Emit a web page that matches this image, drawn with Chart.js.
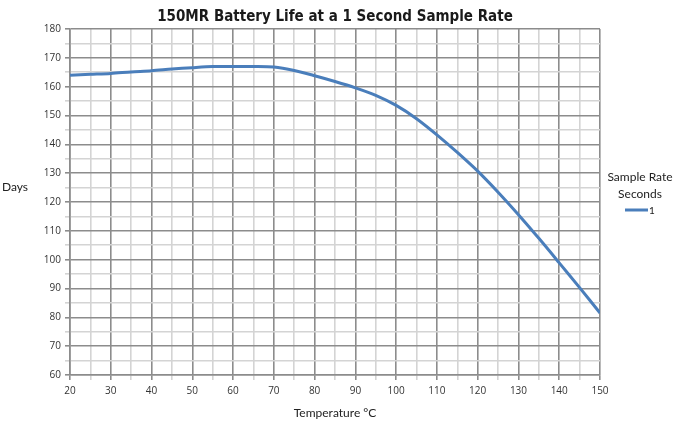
<!DOCTYPE html>
<html>
<head>
<meta charset="utf-8">
<script src="https://cdn.jsdelivr.net/npm/chart.js@4.4.1/dist/chart.umd.min.js"></script>
<style>
  html, body { margin: 0; padding: 0; background: #ffffff; }
  #wrap { width: 679px; height: 421px; position: relative; }
</style>
</head>
<body>
<div id="wrap"><canvas id="c" width="679" height="421"></canvas></div>
<script>
const chartTitle = "150MR Battery Life at a 1 Second Sample Rate";
const xAxisTitle = "Temperature °C";
const yAxisTitle = "Days";
const legendTitle = ["Sample Rate", "Seconds"];
const seriesLabel = "1";
const temperatures = [20, 25, 30, 35, 40, 45, 50, 55, 60, 65, 70, 75, 80, 85, 90, 95, 100, 105, 110, 115, 120, 125, 130, 135, 140, 145, 150];
const days = [164, 164.3, 164.6, 165.1, 165.5, 166.1, 166.6, 167, 167, 167, 166.8, 165.6, 163.8, 161.8, 159.6, 157.0, 153.5, 148.9, 143.3, 137.2, 130.7, 123.4, 115.6, 107.4, 98.9, 90.3, 81.5];
const xMin = 20, xMax = 150, xStep = 5;
const yMin = 60, yMax = 180, yStep = 5;

const lineColor = "rgb(74,126,187)";
const majorGrid = "#8c8c8c";
const minorGrid = "#d4d4d4";

const textPlugin = {
  id: "extraText",
  afterDraw(chart) {
    const ctx = chart.ctx;
    const area = chart.chartArea;
    ctx.save();
    ctx.fillStyle = "#1a1a1a";
    ctx.font = "bold 15px 'DejaVu Sans Condensed', 'DejaVu Sans', sans-serif";
    ctx.textAlign = "center";
    ctx.textBaseline = "middle";
    ctx.fillText(chartTitle, (area.left + area.right) / 2, 17);
    ctx.font = "12px 'Lato', sans-serif";
    ctx.fillStyle = "#222";
    ctx.fillText(yAxisTitle, 15, 187);
    const lx = 640;
    ctx.font = "12px 'Lato', sans-serif";
    ctx.fillText(legendTitle[0], lx, 177);
    ctx.fillText(legendTitle[1], lx, 194);
    const ds = chart.data.datasets[0];
    ctx.strokeStyle = ds.borderColor;
    ctx.lineWidth = 3;
    ctx.beginPath();
    ctx.moveTo(625, 210);
    ctx.lineTo(648, 210);
    ctx.stroke();
    ctx.font = "10px 'Lato', sans-serif";
    ctx.textAlign = "left";
    ctx.fillStyle = "#222";
    ctx.fillText(ds.label, 649, 211);
    ctx.restore();
  }
};

new Chart(document.getElementById("c"), {
  type: "line",
  data: {
    datasets: [{
      label: seriesLabel,
      data: temperatures.map((t, i) => ({ x: t, y: days[i] })),
      borderColor: lineColor,
      borderWidth: 3,
      pointRadius: 0,
      fill: false,
      tension: 0.3
    }]
  },
  options: {
    responsive: false,
    animation: false,
    devicePixelRatio: 1,
    layout: { padding: { top: 29, right: 79, left: 0, bottom: 0 } },
    plugins: {
      legend: { display: false },
      title: { display: false },
      tooltip: { enabled: false }
    },
    scales: {
      x: {
        type: "linear",
        min: xMin, max: xMax,
        afterFit(s) { s.height = 46; },
        ticks: {
          stepSize: xStep,
          autoSkip: false,
          maxRotation: 0,
          padding: 5,
          color: "#333",
          font: { family: "'Open Sans', sans-serif", size: 10 },
          callback: v => (v % 10 === 0 ? String(v) : "")
        },
        grid: {
          color: c => (c.tick && c.tick.value % 10 === 0 ? majorGrid : minorGrid),
          lineWidth: 1.6,
          tickLength: 5,
          tickColor: c => (c.tick && c.tick.value % 10 === 0 ? majorGrid : minorGrid)
        },
        border: { color: majorGrid, width: 1.6 },
        title: {
          display: true,
          text: xAxisTitle,
          color: "#222",
          font: { family: "'Lato', sans-serif", size: 12 },
          padding: { top: 4, bottom: 1 }
        }
      },
      y: {
        type: "linear",
        min: yMin, max: yMax,
        afterFit(s) { s.width = 70; },
        ticks: {
          stepSize: yStep,
          autoSkip: false,
          padding: 4,
          color: "#333",
          font: { family: "'Open Sans', sans-serif", size: 10 },
          callback: v => (v % 10 === 0 ? String(v) : "")
        },
        grid: {
          color: c => (c.tick && c.tick.value % 10 === 0 ? majorGrid : minorGrid),
          lineWidth: 1.6,
          tickLength: 5,
          tickColor: c => (c.tick && c.tick.value % 10 === 0 ? majorGrid : minorGrid)
        },
        border: { color: majorGrid, width: 1.6 }
      }
    }
  },
  plugins: [textPlugin]
});
</script>
</body>
</html>
